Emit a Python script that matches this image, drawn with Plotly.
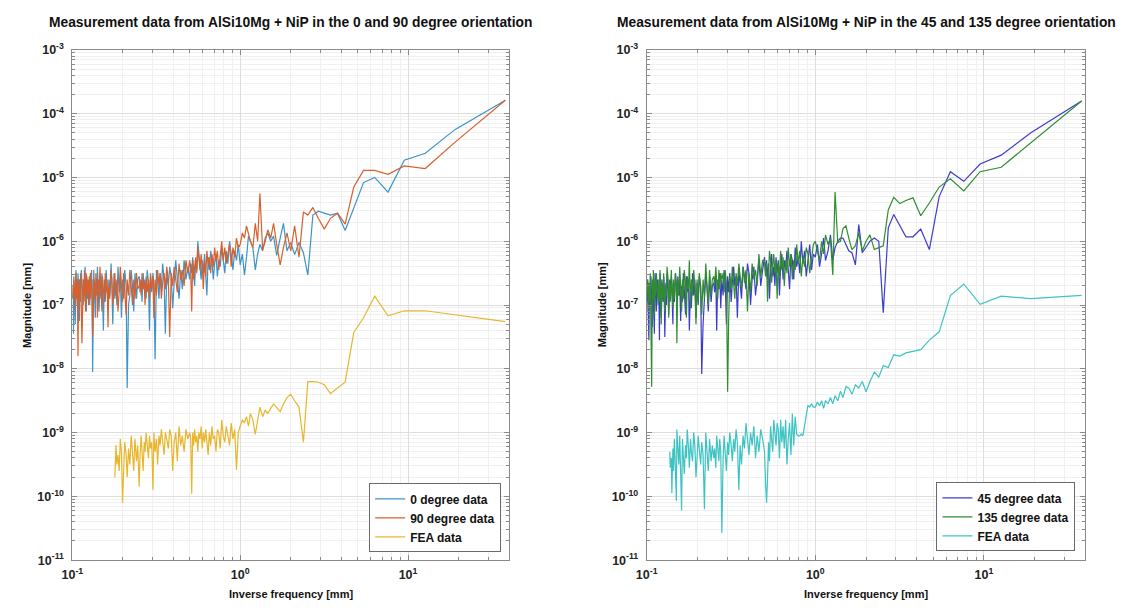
import plotly.graph_objects as go

# ---------------- data ----------------
# inverse frequency [mm] shared by all measured spectra
inv_freq_mm = [
    38.0, 19.0, 12.67, 9.5, 7.6, 6.33, 5.43, 4.75, 4.22, 3.8,
    3.45, 3.17, 2.92, 2.71, 2.53, 2.38, 2.24, 2.11, 2.0, 1.9,
    1.81, 1.73, 1.65, 1.58, 1.52, 1.46, 1.41, 1.36, 1.31, 1.27,
    1.23, 1.19, 1.15, 1.12, 1.09, 1.06, 1.03, 1.0,
    0.974, 0.95, 0.927, 0.905, 0.884, 0.864, 0.844, 0.826, 0.809, 0.792,
    0.776, 0.76, 0.745, 0.731, 0.717, 0.704, 0.691, 0.679, 0.667, 0.655,
    0.644, 0.633, 0.623, 0.613, 0.603, 0.594, 0.585, 0.576, 0.567, 0.559,
    0.551, 0.543, 0.535, 0.528, 0.521, 0.514, 0.507, 0.5,
    0.487, 0.475, 0.463, 0.452, 0.442, 0.432, 0.422, 0.413, 0.404, 0.396,
    0.388, 0.38, 0.373, 0.365, 0.358, 0.352, 0.345, 0.339, 0.333, 0.328,
    0.322, 0.317, 0.311, 0.306, 0.302, 0.297, 0.292, 0.288, 0.284, 0.279,
    0.275, 0.271, 0.268, 0.264, 0.260, 0.257, 0.253, 0.25,
    0.245, 0.241, 0.236, 0.232, 0.228, 0.224, 0.220, 0.216, 0.212, 0.209,
    0.205, 0.202, 0.199, 0.196, 0.193, 0.190, 0.187, 0.184, 0.182, 0.179,
    0.177, 0.174, 0.172, 0.170, 0.167, 0.165, 0.163, 0.161, 0.159, 0.157,
    0.155, 0.153, 0.151, 0.150, 0.148, 0.146, 0.144, 0.143, 0.141, 0.140,
    0.138, 0.137, 0.135, 0.134, 0.132, 0.131, 0.130, 0.128, 0.127, 0.126,
    0.125, 0.123, 0.122, 0.121, 0.120, 0.119, 0.118, 0.117, 0.116, 0.114,
    0.113, 0.112, 0.111, 0.110, 0.1095, 0.109, 0.108, 0.107, 0.106, 0.105,
    0.104, 0.103, 0.102, 0.1015, 0.101, 0.1,
]

# magnitudes stored as log10 of the value in mm
log10_mag_0deg = [
    -3.79, -4.25, -4.62, -4.73, -5.23, -5.0, -5.08, -5.49, -5.83, -5.56,
    -5.59, -5.56, -5.53, -5.59, -6.53, -6.18, -6.02, -6.21, -6.02, -6.15,
    -5.72, -5.95, -6.22, -5.92, -6.0, -5.87, -5.95, -6.15, -6.05, -6.2,
    -6.45, -6.1, -6.0, -5.92, -6.25, -6.53, -6.2, -6.37,
    -6.05, -6.3, -6.15, -6.45, -6.2, -6.0, -6.35, -6.15, -6.5, -6.25,
    -6.1, -6.4, -6.3, -6.55, -6.2, -6.35, -6.6, -6.3, -6.15, -6.45,
    -6.25, -6.85, -6.4, -6.2, -6.5, -6.3, -6.6, -6.35, -6.2, -6.0,
    -6.45, -6.3, -6.7, -6.4, -6.25, -6.5, -6.35, -6.6,
    -6.4, -6.6, -6.3, -6.75, -6.45, -6.9, -6.5, -6.3, -6.65, -7.05,
    -6.55, -6.4, -6.7, -6.5, -7.45, -6.6, -6.35, -6.75, -6.5, -6.9,
    -6.6, -6.45, -7.85, -6.7, -6.5, -6.8, -6.55, -7.4, -6.65, -6.45,
    -6.9, -6.6, -6.75, -6.5, -6.95, -6.6, -6.8, -6.55,
    -6.6, -6.9, -6.5, -7.1, -6.7, -6.45, -6.85, -7.0, -8.3, -6.7,
    -6.45, -6.9, -6.6, -7.2, -6.55, -6.8, -6.4, -7.0, -6.65, -6.9,
    -6.5, -7.3, -6.7, -6.35, -6.85, -6.6, -7.05, -6.7, -6.45, -6.95,
    -6.6, -7.4, -6.75, -6.5, -6.9, -6.6, -7.1, -6.7, -6.4, -6.85,
    -6.65, -7.2, -6.7, -6.45, -8.05, -6.6, -6.8, -6.5, -7.0, -6.7,
    -6.6, -6.9, -6.55, -7.1, -6.7, -6.4, -6.85, -6.6, -7.0, -6.65,
    -6.45, -6.95, -6.7, -7.25, -6.6, -6.8, -6.5, -7.0, -6.7, -6.45,
    -7.3, -6.75, -6.55, -7.45, -6.7, -6.9,
]

log10_mag_90deg = [
    -3.79, -4.45, -4.86, -4.82, -4.95, -4.89, -4.89, -5.15, -5.73, -5.56,
    -5.64, -5.81, -5.64, -5.47, -5.59, -5.54, -6.25, -5.76, -6.15, -5.87,
    -6.1, -6.37, -6.05, -5.72, -5.95, -5.82, -6.0, -6.13, -5.25, -6.0,
    -5.72, -6.1, -6.0, -5.9, -5.76, -5.95, -5.87, -6.05,
    -6.1, -5.95, -6.25, -6.1, -6.4, -6.05, -6.2, -6.35, -6.1, -6.3,
    -6.0, -6.25, -6.45, -6.15, -6.3, -6.1, -6.4, -6.2, -6.5, -6.25,
    -6.35, -6.15, -6.55, -6.3, -6.75, -6.4, -6.2, -6.45, -6.3, -6.1,
    -6.5, -6.25, -6.4, -6.6, -6.3, -7.1, -6.45, -6.3,
    -6.5, -6.3, -6.7, -6.45, -6.6, -6.35, -6.8, -6.55, -6.4, -6.7,
    -6.5, -7.5, -6.6, -6.4, -6.75, -6.5, -6.65, -6.9, -6.5, -6.7,
    -6.45, -6.85, -6.6, -7.2, -6.55, -6.75, -6.5, -6.9, -6.6, -6.8,
    -6.55, -7.0, -6.65, -6.75, -6.5, -6.85, -6.6, -6.7,
    -6.75, -6.5, -6.9, -6.6, -7.0, -6.7, -6.45, -6.85, -6.6, -7.15,
    -6.7, -6.5, -6.95, -6.65, -6.4, -6.8, -7.1, -6.6, -6.85, -6.5,
    -6.75, -7.0, -6.6, -6.45, -6.9, -6.7, -7.35, -6.6, -6.8, -6.5,
    -6.95, -6.7, -6.55, -7.1, -6.65, -6.4, -6.85, -6.6, -7.2, -6.7,
    -6.5, -6.9, -6.6, -6.8, -7.5, -6.65, -6.45, -6.9, -6.7, -6.55,
    -7.0, -6.6, -6.8, -6.5, -7.1, -6.7, -6.45, -6.95, -6.6, -7.6,
    -6.75, -6.5, -6.85, -6.6, -7.0, -6.7, -7.8, -6.6, -6.9, -6.5,
    -6.75, -7.05, -6.6, -6.85, -6.7, -6.9,
]

log10_mag_fea_left = [
    -7.26, -7.15, -7.09, -7.09, -7.17, -6.86, -7.2, -7.43, -8.21, -8.3,
    -8.39, -8.25, -8.21, -8.2, -8.2, -9.15, -8.6, -8.5, -8.4, -8.45,
    -8.55, -8.67, -8.6, -8.55, -8.62, -8.7, -8.65, -8.75, -8.6, -8.85,
    -9.03, -8.8, -8.7, -8.9, -8.75, -8.85, -8.8, -8.9,
    -9.0, -9.58, -8.95, -9.1, -8.85, -9.2, -9.0, -8.9, -9.15, -9.05,
    -8.8, -9.25, -9.0, -8.95, -9.3, -9.05, -9.1, -8.9, -9.2, -9.0,
    -9.35, -9.05, -8.95, -9.15, -9.0, -9.25, -8.9, -9.1, -9.0, -9.3,
    -9.05, -9.15, -8.95, -9.2, -9.0, -9.96, -9.1, -9.0,
    -9.1, -8.95, -9.3, -9.05, -9.2, -8.9, -9.45, -9.0, -9.15, -9.6,
    -9.05, -8.95, -9.25, -9.1, -9.0, -9.35, -9.1, -8.95, -9.2, -9.05,
    -9.5, -9.1, -9.3, -9.0, -9.9, -9.15, -9.25, -9.05, -9.4, -9.1,
    -9.0, -9.3, -9.15, -9.6, -9.2, -9.05, -9.35, -9.85,
    -9.2, -9.45, -9.1, -9.6, -9.3, -9.05, -9.5, -9.25, -9.7, -9.35,
    -9.15, -9.55, -10.1, -9.3, -9.1, -9.6, -9.35, -9.5, -9.2, -9.7,
]

log10_mag_45deg = [
    -3.8, -4.3, -4.65, -4.79, -5.06, -4.91, -5.30, -6.13, -5.81, -5.93,
    -5.93, -5.75, -5.58, -5.79, -7.12, -6.0, -5.95, -6.0, -6.1, -6.18,
    -5.74, -6.37, -6.18, -6.15, -6.05, -5.95, -5.95, -6.0, -6.1, -6.3,
    -5.9, -6.15, -6.3, -5.95, -6.2, -6.4, -6.05, -6.25,
    -6.2, -6.45, -6.05, -6.3, -6.55, -6.15, -6.35, -6.0, -6.5, -6.25,
    -6.4, -6.1, -6.6, -6.3, -6.2, -6.75, -6.35, -6.15, -6.45, -6.3,
    -6.6, -6.2, -6.4, -6.85, -6.3, -6.5, -6.25, -6.7, -6.4, -6.55,
    -6.2, -6.45, -6.9, -6.35, -6.6, -6.3, -6.5, -6.25,
    -6.45, -6.7, -6.3, -6.55, -6.85, -6.4, -6.6, -7.0, -6.5, -6.35,
    -6.75, -6.55, -6.4, -6.9, -6.6, -6.45, -7.2, -6.55, -6.7, -6.4,
    -6.65, -6.95, -6.5, -6.8, -6.55, -7.3, -6.6, -6.45, -6.85, -6.6,
    -7.05, -6.5, -6.75, -6.6, -7.4, -6.55, -6.8, -6.65,
    -6.7, -6.95, -6.55, -7.1, -6.75, -6.5, -6.9, -7.3, -8.08, -6.7,
    -6.55, -7.0, -6.65, -7.2, -6.6, -6.85, -6.5, -7.05, -6.7, -7.4,
    -6.6, -6.8, -6.55, -7.15, -6.75, -6.5, -6.95, -6.7, -7.25, -6.6,
    -6.85, -6.55, -7.1, -6.7, -6.5, -6.95, -6.65, -7.3, -6.7, -6.55,
    -6.9, -6.6, -7.15, -6.75, -6.5, -7.0, -6.65, -7.5, -6.7, -6.55,
    -6.95, -6.6, -7.2, -6.75, -6.5, -7.55, -6.7, -6.85, -6.6, -7.1,
    -6.65, -6.5, -7.45, -6.7, -6.9, -6.6, -7.35, -6.75, -6.55, -7.0,
    -6.65, -7.55, -6.7, -6.9, -6.6, -6.95,
]

log10_mag_135deg = [
    -3.8, -4.45, -4.84, -4.91, -5.21, -5.02, -5.15, -5.4, -5.6, -5.32,
    -5.36, -5.41, -5.31, -5.51, -6.07, -6.1, -6.13, -5.9, -6.0, -6.15,
    -5.87, -6.07, -6.13, -5.95, -5.76, -5.8, -6.0, -6.02, -5.23, -6.53,
    -5.95, -6.05, -5.9, -6.2, -6.0, -6.3, -6.15, -6.0,
    -6.05, -6.3, -6.5, -6.2, -6.1, -6.4, -6.25, -6.55, -6.15, -6.35,
    -6.05, -6.45, -6.3, -6.6, -6.2, -6.4, -6.1, -6.5, -6.3, -6.7,
    -6.25, -6.45, -6.15, -6.55, -6.35, -6.9, -6.3, -6.5, -6.2, -6.4,
    -6.65, -6.3, -6.15, -6.5, -6.95, -6.35, -6.55, -6.3,
    -6.3, -6.55, -6.2, -6.7, -6.45, -6.6, -6.35, -6.8, -6.5, -7.1,
    -6.45, -6.65, -6.4, -6.75, -6.55, -6.35, -6.7, -6.5, -6.9, -6.6,
    -6.4, -6.75, -6.55, -7.3, -8.36, -6.65, -6.45, -6.8, -6.5, -6.6,
    -6.5, -6.75, -6.45, -6.9, -6.6, -6.4, -6.7, -6.55,
    -6.6, -6.85, -6.45, -7.0, -6.7, -6.35, -6.9, -6.6, -7.15, -6.75,
    -6.5, -6.95, -6.6, -7.3, -6.7, -6.45, -6.85, -6.6, -7.05, -6.3,
    -6.75, -6.55, -7.2, -6.65, -6.45, -6.9, -6.6, -7.1, -6.7, -6.4,
    -6.85, -6.6, -7.6, -6.7, -6.5, -6.9, -6.6, -7.05, -6.75, -6.45,
    -6.95, -6.65, -7.2, -6.6, -6.4, -6.85, -6.7, -7.1, -6.6, -6.5,
    -6.9, -6.65, -7.3, -6.7, -6.45, -6.95, -6.6, -7.0, -6.75, -6.5,
    -6.85, -6.6, -7.15, -6.7, -6.45, -6.9, -6.6, -8.28, -6.7, -6.5,
    -6.95, -6.65, -7.1, -6.6, -6.8, -6.7,
]

log10_mag_fea_right = [
    -6.85, -6.90, -6.86, -6.99, -6.67, -6.85, -7.42, -7.55, -7.70, -7.72,
    -7.75, -7.8, -7.78, -7.98, -7.95, -8.13, -8.05, -8.2, -8.36, -8.2,
    -8.3, -8.25, -8.4, -8.3, -8.28, -8.45, -8.35, -8.5, -8.42, -8.55,
    -8.45, -8.55, -8.5, -8.62, -8.5, -8.58, -8.52, -8.6,
    -8.6, -8.55, -8.6, -8.57, -8.75, -8.9, -9.05, -9.02, -9.05, -9.05,
    -9.03, -8.75, -9.2, -8.7, -9.35, -8.85, -9.1, -9.5, -8.8, -9.25,
    -8.9, -9.15, -8.8, -9.4, -8.95, -8.85, -9.2, -9.0, -8.8, -9.3,
    -9.05, -8.9, -9.45, -9.15, -9.7, -10.1, -9.8, -9.3,
    -9.1, -8.95, -9.3, -9.05, -9.4, -8.9, -9.2, -9.0, -9.35, -9.1,
    -8.85, -9.25, -9.05, -9.5, -9.2, -9.9, -9.15, -8.95, -9.3, -9.1,
    -9.45, -9.2, -9.0, -9.35, -9.15, -9.6, -9.2, -9.05, -9.4, -10.57,
    -9.3, -9.1, -9.45, -9.2, -9.05, -9.55, -9.25, -9.4,
    -9.2, -9.45, -9.1, -9.6, -9.3, -9.0, -10.2, -9.35, -9.15, -9.5,
    -9.25, -9.05, -9.4, -9.7, -9.2, -9.0, -9.45, -9.3, -9.1, -9.55,
    -9.25, -8.95, -9.4, -9.2, -9.65, -9.3, -9.1, -10.22, -9.35, -9.05,
    -9.5, -9.2, -8.95, -10.07, -9.3, -9.1, -9.6, -9.25, -9.95, -9.4,
    -9.55, -9.3,
]

titles = [
    "Measurement data from AlSi10Mg + NiP in the 0 and 90 degree orientation",
    "Measurement data from AlSi10Mg + NiP in the 45 and 135 degree orientation",
]
x_label = "Inverse frequency [mm]"
y_label = "Magnitude [mm]"
x_tick_vals = [0.1, 1, 10]
x_tick_text = ["10<sup>-1</sup>", "10<sup>0</sup>", "10<sup>1</sup>"]
y_tick_vals = [1e-11, 1e-10, 1e-9, 1e-8, 1e-7, 1e-6, 1e-5, 1e-4, 1e-3]
y_tick_text = ["10<sup>-11</sup>", "10<sup>-10</sup>", "10<sup>-9</sup>", "10<sup>-8</sup>",
               "10<sup>-7</sup>", "10<sup>-6</sup>", "10<sup>-5</sup>", "10<sup>-4</sup>",
               "10<sup>-3</sup>"]

# ---------------- figure ----------------
W, H = 1122, 611
FONT = "Liberation Sans, Arial, sans-serif"


def to_mag(vals):
    return [10 ** v for v in vals]


series = [
    ("0 degree data", log10_mag_0deg, "#3b93c9", "x", "y", "legend"),
    ("90 degree data", log10_mag_90deg, "#d9602b", "x", "y", "legend"),
    ("FEA data", log10_mag_fea_left, "#e8b62c", "x", "y", "legend"),
    ("45 degree data", log10_mag_45deg, "#3c3ccc", "x2", "y2", "legend2"),
    ("135 degree data", log10_mag_135deg, "#2f8d2f", "x2", "y2", "legend2"),
    ("FEA data", log10_mag_fea_right, "#3ec3c3", "x2", "y2", "legend2"),
]

fig = go.Figure()
for name, vals, color, xa, ya, leg in series:
    fig.add_trace(go.Scatter(
        x=inv_freq_mm[:len(vals)], y=to_mag(vals), mode="lines", name=name,
        line=dict(color=color, width=1.2), xaxis=xa, yaxis=ya, legend=leg,
    ))

x_minor = [m * 10 ** e for e in (-1, 0, 1) for m in range(2, 10) if m * 10 ** e < 40]
y_minor = [m * 10.0 ** e for e in range(-11, -3) for m in range(2, 10)]

tick_font = dict(family=FONT, size=12.5, color="#222222", weight="bold")
common = dict(
    type="log", showline=True, linecolor="#8a8a8a", linewidth=1, mirror="ticks",
    ticks="inside", ticklen=5, tickcolor="#8a8a8a", showgrid=True,
    gridcolor="#dedede", gridwidth=1, zeroline=False, tickfont=tick_font,
    tickmode="array",
)
x_common = dict(common, range=[-1, 1.60206], tickvals=x_tick_vals, ticktext=x_tick_text,
                ticklabelstandoff=3,
                minor=dict(tickmode="array", tickvals=x_minor, ticks="inside", ticklen=3,
                           tickcolor="#8a8a8a", showgrid=True, gridcolor="#f0f0f0"))
y_common = dict(common, range=[-11, -3], tickvals=y_tick_vals, ticktext=y_tick_text,
                ticklabelstandoff=5,
                minor=dict(tickmode="array", tickvals=y_minor, ticks="inside", ticklen=3,
                           tickcolor="#8a8a8a", showgrid=True, gridcolor="#f0f0f0"))

dom_x1 = [62 / W, 503 / W]
dom_x2 = [642 / W, 1085 / W]
dom_y = [(H - 566) / H, (H - 42) / H]

legend_common = dict(
    font=dict(family=FONT, size=12, color="#111111", weight="bold"),
    bgcolor="white", bordercolor="#6a6a6a", borderwidth=1,
    xanchor="right", yanchor="bottom", xref="paper", yref="paper",
    tracegroupgap=0, itemwidth=30,
)

fig.update_layout(
    width=W, height=H, autosize=False,
    margin=dict(l=0, r=0, t=0, b=0),
    paper_bgcolor="white", plot_bgcolor="white",
    xaxis=dict(x_common, domain=dom_x1, anchor="y"),
    yaxis=dict(y_common, domain=dom_y, anchor="x"),
    xaxis2=dict(x_common, domain=dom_x2, anchor="y2"),
    yaxis2=dict(y_common, domain=dom_y, anchor="x2"),
    legend=dict(legend_common, x=495 / W, y=(H - 558) / H),
    legend2=dict(legend_common, x=1075 / W, y=(H - 557) / H),
    showlegend=True,
)

ann_font = dict(family=FONT, color="#111111", weight="bold")
centers = [(dom_x1[0] + dom_x1[1]) / 2, (dom_x2[0] + dom_x2[1]) / 2]
ylab_x = [16 / W, 597 / W]
for i in range(2):
    fig.add_annotation(text=titles[i], x=centers[i], y=(H - 14) / H, xref="paper", yref="paper",
                       xanchor="center", yanchor="middle", showarrow=False,
                       font=dict(ann_font, size=13.8))
    fig.add_annotation(text=x_label, x=centers[i], y=(H - 601) / H, xref="paper", yref="paper",
                       xanchor="center", yanchor="middle", showarrow=False,
                       font=dict(ann_font, size=11))
    fig.add_annotation(text=y_label, x=ylab_x[i], y=(H - 304) / H, xref="paper", yref="paper",
                       xanchor="center", yanchor="middle", showarrow=False, textangle=-90,
                       font=dict(ann_font, size=11))

fig.write_html("out.html", config={"displayModeBar": False})
